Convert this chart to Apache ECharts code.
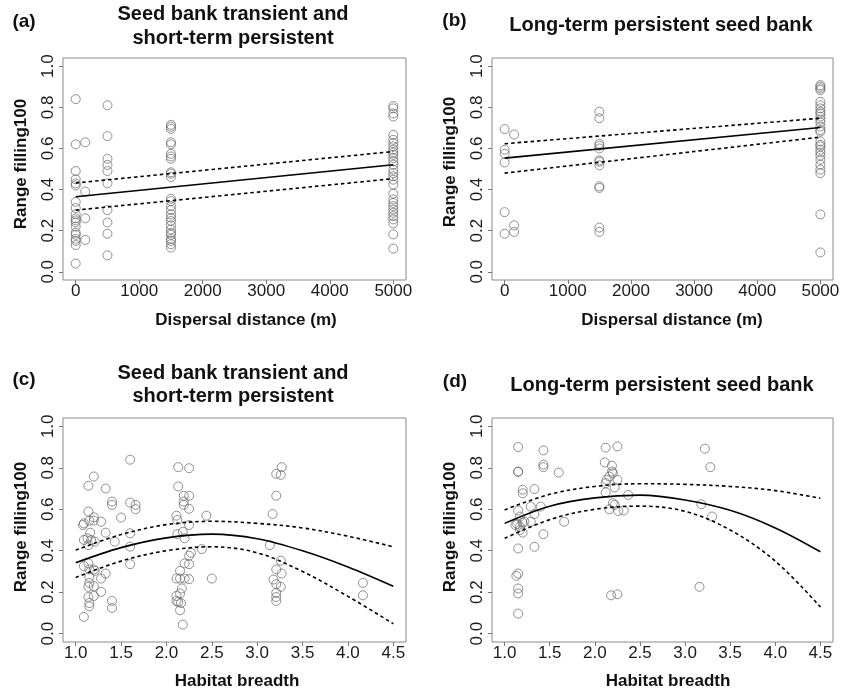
<!DOCTYPE html>
<html>
<head>
<meta charset="utf-8">
<script src="https://cdn.jsdelivr.net/npm/echarts@6/dist/echarts.min.js"></script>
<style>
html,body{margin:0;padding:0;background:#fff;}
#chart{width:848px;height:691px;}
</style>
</head>
<body>
<div id="chart"></div>
<script>
// ---------- Data ----------
// Panels (a),(b): dispersal distance levels and range filling values per level
const distLevelsA = [0, 150, 500, 1500, 5000];
const aAt0 = [0.84,0.62,0.49,0.45,0.43,0.42,0.34,0.31,0.28,0.26,0.25,0.24,0.22,0.19,0.18,0.16,0.15,0.13,0.04];
const aAt150 = [0.63,0.39,0.26,0.155];
const aAt500 = [0.81,0.66,0.55,0.52,0.49,0.43,0.30,0.24,0.185,0.08];
const aAt1500 = [0.715,0.706,0.695,0.63,0.62,0.574,0.561,0.55,0.484,0.477,0.461,0.355,0.344,0.32,0.30,0.279,0.263,0.247,0.226,0.206,0.19,0.18,0.16,0.15,0.134,0.118];
const aAt5000 = [0.806,0.795,0.77,0.755,0.666,0.642,0.626,0.61,0.594,0.58,0.569,0.553,0.537,0.521,0.497,0.48,0.465,0.448,0.424,0.38,0.352,0.335,0.32,0.303,0.287,0.271,0.255,0.235,0.182,0.113];

const distLevelsB = [0, 150, 1500, 5000];
const bAt0 = [0.694,0.594,0.574,0.532,0.29,0.185];
const bAt150 = [0.668,0.226,0.194];
const bAt1500 = [0.779,0.747,0.623,0.613,0.60,0.542,0.535,0.518,0.416,0.408,0.215,0.194];
const bAt5000 = [0.908,0.9,0.892,0.884,0.827,0.81,0.795,0.779,0.77,0.755,0.74,0.726,0.706,0.69,0.682,0.634,0.618,0.61,0.594,0.58,0.565,0.545,0.521,0.497,0.48,0.279,0.094];

// Fitted lines (a),(b): values at distance 0 and 5000
const fitDistX = [0, 5000];
const aFit = [0.365, 0.521];
const aUpper = [0.432, 0.585];
const aLower = [0.30, 0.453];
const bFit = [0.553, 0.702];
const bUpper = [0.623, 0.747];
const bLower = [0.48, 0.655];

// Panels (c),(d): habitat breadth vs range filling
const cHabitat = [1.09,1.08,1.14,1.14,1.2,1.33,1.40,1.40,1.60,1.60,1.66,1.66,1.50,1.28,1.2,1.2,1.15,1.09,1.13,1.17,1.21,1.16,1.33,1.43,1.60,1.60,1.60,1.14,1.09,1.14,1.15,1.2,1.21,1.33,1.28,1.15,1.15,1.14,1.2,1.28,1.2,1.14,1.15,1.15,1.40,1.40,1.09,
  2.13,2.25,2.13,2.19,2.25,2.19,2.19,2.25,2.11,2.12,2.44,2.18,2.12,2.20,2.25,2.27,2.25,2.20,2.25,2.39,2.15,2.11,2.15,2.20,2.25,2.50,2.17,2.15,2.11,2.11,2.13,2.16,2.15,2.18,
  3.27,3.21,3.26,3.21,3.17,3.14,3.26,3.21,3.27,3.18,3.21,3.26,3.21,3.21,3.21,
  4.165,4.165];
const cFilling = [0.532,0.524,0.589,0.713,0.758,0.70,0.637,0.621,0.839,0.632,0.621,0.60,0.56,0.54,0.561,0.545,0.545,0.452,0.46,0.452,0.444,0.487,0.487,0.444,0.484,0.42,0.335,0.427,0.326,0.339,0.31,0.31,0.303,0.29,0.266,0.274,0.245,0.226,0.229,0.202,0.182,0.177,0.148,0.132,0.158,0.124,0.081,
  0.803,0.798,0.71,0.665,0.665,0.637,0.621,0.602,0.569,0.548,0.569,0.492,0.48,0.46,0.524,0.39,0.376,0.339,0.335,0.408,0.303,0.266,0.266,0.266,0.263,0.266,0.218,0.194,0.182,0.158,0.153,0.148,0.113,0.044,
  0.803,0.771,0.766,0.665,0.577,0.427,0.352,0.31,0.29,0.261,0.239,0.226,0.197,0.177,0.158,
  0.245,0.185];

const dHabitat = [1.15,1.15,1.15,1.43,1.43,1.43,1.60,1.33,1.20,1.20,1.29,1.40,1.33,1.15,1.17,1.29,1.66,1.12,1.14,1.17,1.20,1.22,1.17,1.20,1.43,1.33,1.15,1.15,1.13,1.15,1.15,1.15,
  2.12,2.25,2.11,2.19,2.19,2.20,2.16,2.13,2.25,2.12,2.22,2.12,2.37,2.20,2.22,2.16,2.26,2.32,2.18,2.25,
  3.22,3.28,3.18,3.30,3.16];
const dFilling = [0.90,0.782,0.78,0.884,0.815,0.803,0.777,0.697,0.694,0.677,0.613,0.613,0.577,0.594,0.565,0.54,0.54,0.524,0.529,0.516,0.535,0.54,0.50,0.487,0.48,0.419,0.411,0.29,0.279,0.218,0.194,0.097,
  0.897,0.903,0.826,0.81,0.782,0.774,0.758,0.742,0.742,0.726,0.705,0.681,0.669,0.629,0.621,0.60,0.592,0.594,0.185,0.19,
  0.892,0.803,0.624,0.565,0.226];

// Fitted quadratic curves (c),(d), read at these habitat breadth values
const curveX = [1.0,1.5,2.0,2.5,3.0,3.5,4.0,4.5];
const cFit = [0.342,0.415,0.462,0.48,0.458,0.400,0.322,0.229];
const cUpper = [0.403,0.478,0.526,0.542,0.532,0.51,0.47,0.419];
const cLower = [0.271,0.35,0.40,0.419,0.39,0.30,0.18,0.048];
const dFit = [0.532,0.615,0.655,0.668,0.645,0.595,0.51,0.395];
const dUpper = [0.597,0.672,0.71,0.723,0.72,0.71,0.69,0.653];
const dLower = [0.46,0.55,0.60,0.615,0.59,0.50,0.35,0.129];

// Tick labels
const distTicks = [0,1000,2000,3000,4000,5000];
const habitatTicks = [1.0,1.5,2.0,2.5,3.0,3.5,4.0,4.5];
const fillTicks = [0.0,0.2,0.4,0.6,0.8,1.0];

// Text
const panelLabels = ['(a)','(b)','(c)','(d)'];
const panelTitles = ['Seed bank transient and\nshort-term persistent','Long-term persistent seed bank','Seed bank transient and\nshort-term persistent','Long-term persistent seed bank'];
const xTitles = ['Dispersal distance (m)','Dispersal distance (m)','Habitat breadth','Habitat breadth'];
const yTitle = 'Range filling100';

// ---------- Build ----------
const FONT = '"Liberation Sans", Arial, Helvetica, sans-serif';
function levelPairs(levels, arrs){
  const out=[];
  levels.forEach((lv,i)=>arrs[i].forEach(v=>out.push([lv,v])));
  return out;
}
function zip(xs, ys){ return xs.map((x,i)=>[x, ys[i]]); }

const ptsA = levelPairs(distLevelsA,[aAt0,aAt150,aAt500,aAt1500,aAt5000]);
const ptsB = levelPairs(distLevelsB,[bAt0,bAt150,bAt1500,bAt5000]);
const ptsC = zip(cHabitat,cFilling);
const ptsD = zip(dHabitat,dFilling);

const grids = [
  {left:63, top:58, width:343, height:222},
  {left:492, top:58, width:341, height:222},
  {left:63, top:418, width:343, height:224},
  {left:492, top:418, width:341, height:224}
].map(g=>Object.assign(g,{show:true, borderColor:'#8a8a8a', borderWidth:1, backgroundColor:'transparent'}));

function xAxisFor(i){
  const dist = i<2;
  const ticks = dist ? distTicks : habitatTicks;
  return {
    type:'value', gridIndex:i, position:'bottom',
    min: dist ? -200 : 0.86, max: dist ? 5200 : 4.64,
    axisLine:{show:false, onZero:false},
    axisTick:{show:true, length:4, lineStyle:{color:'#777'}, customValues:ticks},
    axisLabel:{show:true, customValues:ticks, margin:3, fontSize:17, color:'#1a1a1a', fontFamily:FONT,
      formatter: v => dist ? String(Math.round(v)) : Number(v).toFixed(1)},
    splitLine:{show:false}
  };
}
function yAxisFor(i){
  return {
    type:'value', gridIndex:i, min:-0.04, max:1.04, position:'left',
    axisLine:{show:false, onZero:false},
    axisTick:{show:true, length:4, lineStyle:{color:'#777'}, customValues:fillTicks},
    axisLabel:{show:true, customValues:fillTicks, rotate:90, margin:6, fontSize:17, color:'#1a1a1a', fontFamily:FONT,
      formatter: v => Number(v).toFixed(1)},
    splitLine:{show:false}
  };
}

function scatter(i, data){
  return {type:'scatter', xAxisIndex:i, yAxisIndex:i, data, symbol:'circle', symbolSize:9,
    itemStyle:{color:'rgba(0,0,0,0)', borderColor:'#666', borderWidth:0.9}, silent:true, z:2};
}
function line(i, data, dashed, smooth){
  return {type:'line', xAxisIndex:i, yAxisIndex:i, data, showSymbol:false, symbol:'none', smooth: smooth?0.35:false,
    lineStyle:{color:'#000', width:1.6, type: dashed?[3.5,3]:'solid'}, silent:true, z:3};
}

const series = [
  scatter(0, ptsA), line(0, zip(fitDistX,aFit), false), line(0, zip(fitDistX,aUpper), true), line(0, zip(fitDistX,aLower), true),
  scatter(1, ptsB), line(1, zip(fitDistX,bFit), false), line(1, zip(fitDistX,bUpper), true), line(1, zip(fitDistX,bLower), true),
  scatter(2, ptsC), line(2, zip(curveX,cFit), false, true), line(2, zip(curveX,cUpper), true, true), line(2, zip(curveX,cLower), true, true),
  scatter(3, ptsD), line(3, zip(curveX,dFit), false, true), line(3, zip(curveX,dUpper), true, true), line(3, zip(curveX,dLower), true, true)
];

// text placement
const labelPos = [[24,22],[454.5,21],[24,380],[455,382]];
const titlePos = [[233,26.7],[661,25],[233,385],[662,385]];
const xTitlePos = [[246,320],[672,320],[237,681.7],[668,681.7]];
const yTitlePos = [[21.7,164],[450.7,162],[21.7,527],[450.7,527]];

const graphic = [];
for(let i=0;i<4;i++){
  graphic.push({type:'text', x:labelPos[i][0], y:labelPos[i][1], style:{text:panelLabels[i], textAlign:'center', textVerticalAlign:'middle', font:'bold 19px '+FONT, fill:'#111'}});
  graphic.push({type:'text', x:titlePos[i][0], y:titlePos[i][1], style:{text:panelTitles[i], textAlign:'center', textVerticalAlign:'middle', font:'bold 20px '+FONT, lineHeight:23.5, fill:'#111'}});
  graphic.push({type:'text', x:xTitlePos[i][0], y:xTitlePos[i][1], style:{text:xTitles[i], textAlign:'center', textVerticalAlign:'middle', font:'bold 17px '+FONT, fill:'#111'}});
  graphic.push({type:'text', x:yTitlePos[i][0], y:yTitlePos[i][1], rotation:Math.PI/2, style:{text:yTitle, textAlign:'center', textVerticalAlign:'middle', font:'bold 17px '+FONT, fill:'#111'}});
}

const chart = echarts.init(document.getElementById('chart'), null, {renderer:'canvas'});
chart.setOption({
  animation:false,
  backgroundColor:'#fff',
  grid: grids,
  xAxis: [0,1,2,3].map(xAxisFor),
  yAxis: [0,1,2,3].map(yAxisFor),
  series,
  graphic
});
</script>
</body>
</html>
